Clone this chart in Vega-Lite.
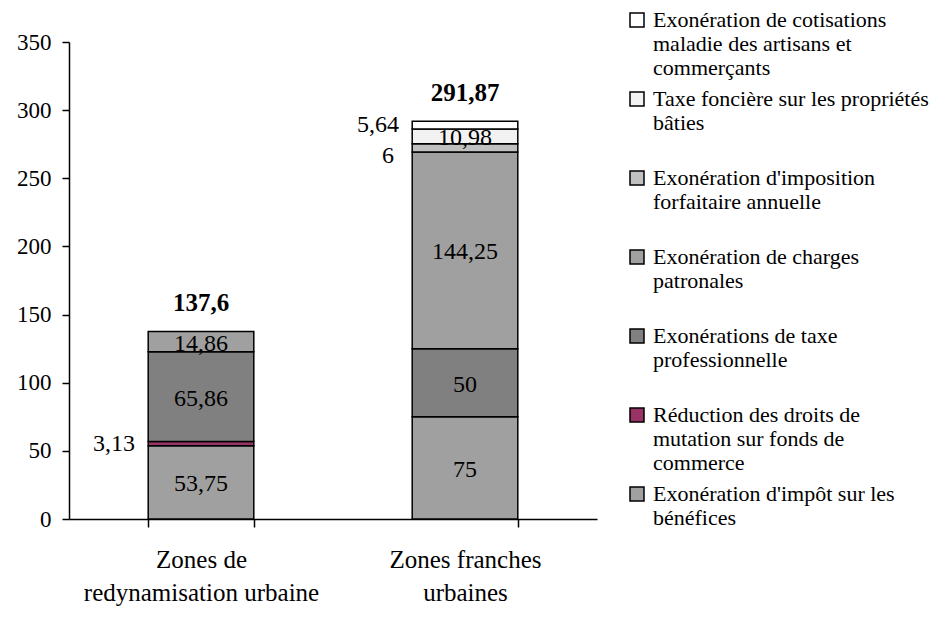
{
  "$schema": "https://vega.github.io/schema/vega-lite/v6.json",
  "width": 528,
  "height": 477,
  "autosize": "none",
  "padding": {"left": 69, "top": 42, "right": 344, "bottom": 104},
  "background": "white",
  "config": {
    "font": "Liberation Serif",
    "view": {"stroke": null},
    "axis": {"domainColor": "black", "tickColor": "black", "labelColor": "black", "domainWidth": 1.5, "tickWidth": 1.5, "grid": false, "labelFont": "Liberation Serif"},
    "legend": {"labelFont": "Liberation Serif"}
  },
  "data": {
    "values": [
      {"zone": "Zones de redynamisation urbaine", "serie": "Exonération d'impôt sur les bénéfices", "value": 53.75},
      {"zone": "Zones de redynamisation urbaine", "serie": "Réduction des droits de mutation sur fonds de commerce", "value": 3.13},
      {"zone": "Zones de redynamisation urbaine", "serie": "Exonérations de taxe professionnelle", "value": 65.86},
      {"zone": "Zones de redynamisation urbaine", "serie": "Exonération de charges patronales", "value": 14.86},
      {"zone": "Zones franches urbaines", "serie": "Exonération d'impôt sur les bénéfices", "value": 75},
      {"zone": "Zones franches urbaines", "serie": "Exonérations de taxe professionnelle", "value": 50},
      {"zone": "Zones franches urbaines", "serie": "Exonération de charges patronales", "value": 144.25},
      {"zone": "Zones franches urbaines", "serie": "Exonération d'imposition forfaitaire annuelle", "value": 6},
      {"zone": "Zones franches urbaines", "serie": "Taxe foncière sur les propriétés bâties", "value": 10.98},
      {"zone": "Zones franches urbaines", "serie": "Exonération de cotisations maladie des artisans et commerçants", "value": 5.64}
    ]
  },
  "transform": [
    {"calculate": "indexof([\"Exonération de cotisations maladie des artisans et commerçants\", \"Taxe foncière sur les propriétés bâties\", \"Exonération d'imposition forfaitaire annuelle\", \"Exonération de charges patronales\", \"Exonérations de taxe professionnelle\", \"Réduction des droits de mutation sur fonds de commerce\", \"Exonération d'impôt sur les bénéfices\"], datum.serie)", "as": "ordre"},
    {"stack": "value", "groupby": ["zone"], "sort": [{"field": "ordre", "order": "descending"}], "as": ["v0", "v1"]},
    {"calculate": "(datum.v0 + datum.v1) / 2", "as": "mid"},
    {"calculate": "replace(format(datum.value, '.2~f'), '.', ',')", "as": "lab"}
  ],
  "encoding": {
    "x": {
      "field": "zone",
      "type": "nominal",
      "sort": ["Zones de redynamisation urbaine", "Zones franches urbaines"],
      "scale": {"paddingInner": 0.6, "paddingOuter": 0.3},
      "axis": {
        "title": null,
        "labelAngle": 0,
        "labelFontSize": 25,
        "labelLineHeight": 33,
        "labelPadding": 20,
        "labelLimit": 0,
        "tickSize": 8,
        "tickBand": "extent",
        "labelExpr": "datum.label == 'Zones de redynamisation urbaine' ? ['Zones de', 'redynamisation urbaine'] : datum.label == 'Zones franches urbaines' ? ['Zones franches', 'urbaines'] : ''"
      }
    }
  },
  "layer": [
    {
      "mark": {"type": "bar", "stroke": "black", "strokeWidth": 1.5},
      "encoding": {
        "y": {
          "field": "v0",
          "type": "quantitative",
          "scale": {"domain": [0, 350], "nice": false},
          "axis": {"title": null, "values": [0, 50, 100, 150, 200, 250, 300, 350], "labelFontSize": 23, "tickSize": 7, "labelPadding": 11}
        },
        "y2": {"field": "v1"},
        "color": {
          "field": "serie",
          "type": "nominal",
          "scale": {
            "domain": ["Exonération de cotisations maladie des artisans et commerçants", "Taxe foncière sur les propriétés bâties", "Exonération d'imposition forfaitaire annuelle", "Exonération de charges patronales", "Exonérations de taxe professionnelle", "Réduction des droits de mutation sur fonds de commerce", "Exonération d'impôt sur les bénéfices"],
            "range": ["#ffffff", "#f2f2f2", "#c0c0c0", "#a0a0a0", "#808080", "#993366", "#a0a0a0"]
          },
          "legend": {
            "title": null,
            "orient": "none",
            "legendX": 557,
            "legendY": -33,
            "gridAlign": "all",
            "symbolType": "square",
            "symbolSize": 196,
            "symbolStrokeColor": "black",
            "symbolStrokeWidth": 1.5,
            "labelFontSize": 22,
            "labelLineHeight": 23,
            "labelLimit": 0,
            "labelOffset": 5,
            "labelColor": "black",
            "rowPadding": 9,
            "labelExpr": "indexof(datum.label, 'cotisations') >= 0 ? ['Exonération de cotisations', 'maladie des artisans et', 'commerçants'] : indexof(datum.label, 'foncière') >= 0 ? ['Taxe foncière sur les propriétés', 'bâties'] : indexof(datum.label, 'forfaitaire') >= 0 ? [\"Exonération d'imposition\", 'forfaitaire annuelle'] : indexof(datum.label, 'patronales') >= 0 ? ['Exonération de charges', 'patronales'] : indexof(datum.label, 'professionnelle') >= 0 ? ['Exonérations de taxe', 'professionnelle'] : indexof(datum.label, 'mutation') >= 0 ? ['Réduction des droits de', 'mutation sur fonds de', 'commerce'] : [\"Exonération d'impôt sur les\", 'bénéfices']"
          }
        }
      }
    },
    {
      "transform": [{"filter": "datum.value >= 8"}],
      "mark": {"type": "text", "fontSize": 24, "color": "black", "baseline": "middle", "dy": 2},
      "encoding": {
        "y": {"field": "mid", "type": "quantitative"},
        "text": {"field": "lab"}
      }
    },
    {
      "transform": [{"filter": "datum.value < 8 && datum.value != 6"}],
      "mark": {"type": "text", "fontSize": 24, "color": "black", "baseline": "middle", "align": "right", "dx": -66},
      "encoding": {
        "y": {"field": "mid", "type": "quantitative"},
        "text": {"field": "lab"}
      }
    },
    {
      "transform": [{"filter": "datum.value == 6"}],
      "mark": {"type": "text", "fontSize": 24, "color": "black", "baseline": "middle", "align": "right", "dx": -71, "dy": 8},
      "encoding": {
        "y": {"field": "mid", "type": "quantitative"},
        "text": {"field": "lab"}
      }
    },
    {
      "transform": [
        {"aggregate": [{"op": "sum", "field": "value", "as": "total"}], "groupby": ["zone"]},
        {"calculate": "replace(format(datum.total, '.2~f'), '.', ',')", "as": "tlab"}
      ],
      "mark": {"type": "text", "fontSize": 25, "fontWeight": "bold", "color": "black", "baseline": "alphabetic", "dy": -20},
      "encoding": {
        "y": {"field": "total", "type": "quantitative"},
        "text": {"field": "tlab"}
      }
    }
  ]
}
